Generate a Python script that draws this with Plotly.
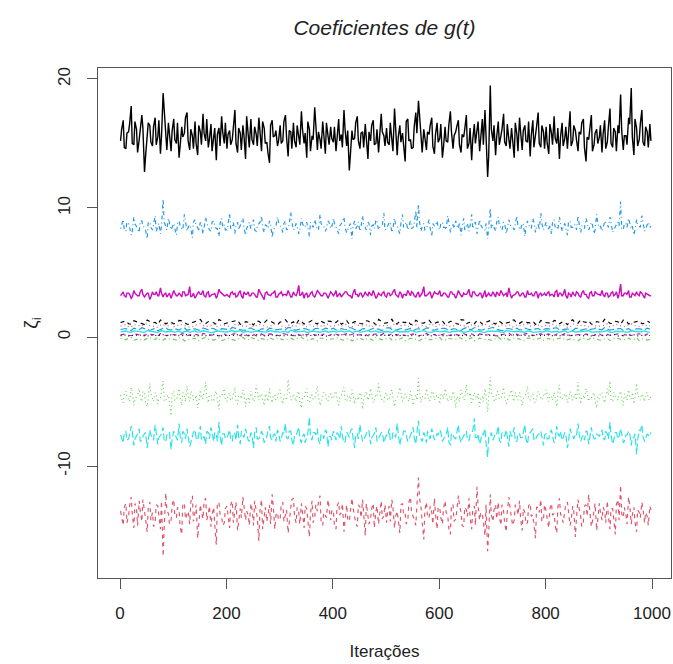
import plotly.graph_objects as go

# Iterations: two interleaved sets for the main chains, two for the near-zero chains
iter_main_a = list(range(1, 1001, 5))
iter_main_b = list(range(3, 1001, 5))
iter_small_a = list(range(1, 1001, 10))
iter_small_b = list(range(6, 1001, 10))

zeta1_a = [15.2, 16.8, 14.6, 15.9, 17.9, 14.9, 16.1, 15.3, 17.2, 12.8, 15.7, 16.4, 14.8, 17.0, 15.5, 14.2, 18.9, 15.1, 16.6, 14.4,
           16.9, 15.0, 13.9, 16.3, 15.8, 17.4, 14.5, 15.6, 16.7, 14.1, 15.9, 17.3, 15.2, 14.7, 16.5, 15.4, 13.7, 16.2, 17.1, 15.0,
           14.6, 16.0, 15.3, 17.6, 14.3, 15.8, 16.4, 13.8, 15.5, 16.9, 14.9, 15.7, 17.0, 14.4, 16.2, 15.1, 13.5, 16.8, 15.6, 14.8,
           16.4, 15.2, 17.2, 14.0, 15.9, 16.6, 14.7, 15.4, 17.5, 15.0, 13.9, 16.1, 15.6, 17.8, 14.5, 15.3, 16.7, 14.2, 15.8, 16.3,
           15.1, 14.4, 16.9, 15.7, 17.6, 14.8, 12.9, 16.0, 15.4, 17.1, 14.6, 15.9, 16.5, 13.8, 15.2, 16.8, 15.0, 14.3, 17.3, 15.6,
           16.2, 14.9, 15.5, 17.7, 14.1, 16.4, 15.8, 13.6, 16.9, 15.3, 14.7, 17.4, 18.3, 15.0, 16.1, 14.5, 15.7, 17.0, 14.2, 16.6,
           15.4, 13.9, 16.3, 15.1, 17.5, 14.6, 15.9, 16.8, 14.3, 15.5, 17.2, 15.0, 13.7, 16.5, 15.8, 14.4, 16.9, 17.6, 12.4, 19.5,
           15.2, 14.1, 16.7, 15.6, 17.3, 14.8, 15.3, 16.2, 13.9, 15.7, 17.0, 14.5, 16.4, 15.1, 14.0, 16.8, 15.5, 17.4, 14.7, 15.9,
           16.3, 14.2, 15.8, 17.1, 15.0, 13.8, 16.6, 15.4, 14.6, 17.5, 15.2, 16.0, 14.4, 15.7, 16.9, 13.6, 15.3, 17.2, 14.9, 16.1,
           15.5, 14.3, 16.8, 15.1, 17.7, 14.7, 15.9, 16.4, 18.8, 14.5, 15.6, 17.0, 19.3, 14.1, 16.2, 15.3, 17.6, 14.8, 15.9, 16.5]
zeta1_b = [16.1, 14.7, 15.8, 16.5, 15.0, 16.7, 14.3, 15.9, 16.2, 14.0, 16.6, 15.1, 16.3, 14.9, 16.8, 15.6, 17.4, 14.5, 15.8, 16.0,
           15.3, 16.6, 14.8, 15.5, 17.0, 15.2, 16.1, 14.6, 15.0, 16.4, 14.9, 15.8, 16.9, 15.3, 14.4, 16.2, 15.7, 14.8, 15.9, 16.6,
           15.7, 14.9, 16.5, 15.0, 16.2, 14.5, 15.6, 17.1, 14.7, 15.3, 16.3, 14.8, 15.9, 16.7, 15.0, 14.3, 16.4, 15.5, 16.0, 15.2,
           15.0, 16.7, 15.5, 16.0, 14.6, 15.2, 16.4, 14.9, 16.1, 15.8, 16.7, 14.4, 15.3, 16.2, 15.9, 14.6, 15.7, 16.6, 14.9, 15.4,
           16.3, 15.6, 15.2, 14.7, 16.1, 16.0, 14.1, 15.3, 16.6, 15.2, 15.8, 14.7, 15.4, 15.9, 16.4, 14.9, 16.1, 15.5, 15.9, 14.8,
           15.1, 16.6, 14.4, 16.0, 15.5, 15.1, 14.9, 16.7, 15.2, 14.6, 16.3, 15.8, 17.2, 14.3, 15.6, 15.9, 16.4, 14.8, 15.7, 15.1,
           16.5, 14.7, 15.2, 16.4, 15.9, 15.6, 16.3, 14.9, 15.7, 16.1, 14.6, 16.2, 15.3, 15.0, 16.7, 15.4, 14.9, 15.6, 14.0, 16.1,
           16.4, 15.5, 14.9, 16.1, 15.1, 16.5, 14.6, 15.2, 16.6, 14.4, 15.9, 16.0, 15.2, 16.7, 15.6, 14.7, 16.3, 15.0, 16.4, 14.6,
           15.0, 16.5, 14.9, 15.4, 16.2, 15.5, 14.8, 16.3, 16.0, 14.8, 16.4, 15.3, 15.9, 16.6, 14.7, 15.5, 16.1, 14.4, 15.8, 15.0,
           16.4, 15.7, 14.6, 16.3, 15.0, 16.2, 14.4, 15.8, 16.0, 15.6, 14.9, 16.5, 15.5, 16.9, 14.8, 16.5, 15.1, 16.3, 14.7, 15.2]

zeta2_a = [-13.5, -14.6, -12.9, -13.9, -12.4, -14.8, -13.3, -12.7, -14.3, -13.8, -15.1, -12.8, -13.6, -14.4, -13.1, -14.9, -17.0, -12.1, -13.7, -14.2,
           -12.6, -14.0, -13.4, -15.3, -12.9, -13.8, -14.5, -12.3, -13.6, -15.6, -13.0, -14.1, -12.5, -13.7, -14.7, -13.2, -16.1, -12.8, -13.9, -14.4,
           -13.1, -14.8, -12.7, -13.5, -15.0, -13.3, -12.4, -14.2, -13.8, -12.9, -14.6, -13.4, -15.8, -12.6, -13.9, -14.3, -13.0, -12.2, -14.9, -13.6,
           -14.1, -12.8, -13.7, -15.2, -13.2, -12.5, -14.4, -13.6, -12.9, -14.8, -13.3, -15.5, -12.7, -14.0, -13.5, -12.3, -14.6, -13.8, -12.6, -14.2,
           -13.4, -14.9, -12.8, -13.6, -15.1, -13.0, -14.3, -12.5, -13.9, -14.7, -13.2, -12.6, -15.4, -13.7, -14.1, -12.9, -13.5, -14.5, -12.7, -13.8,
           -14.4, -13.1, -12.6, -14.8, -13.5, -15.2, -12.9, -13.7, -14.2, -12.4, -13.9, -14.6, -10.9, -13.3, -15.7, -12.8, -14.0, -13.6, -12.5, -14.9,
           -13.2, -14.5, -12.7, -13.8, -15.3, -13.0, -14.1, -12.3, -13.6, -14.7, -13.4, -12.5, -14.9, -13.1, -11.6, -14.2, -13.7, -15.4, -16.6, -12.2,
           -14.3, -13.0, -12.8, -14.6, -13.5, -15.1, -12.4, -13.9, -14.2, -13.3, -12.7, -15.0, -13.6, -14.4, -12.9, -13.8, -15.6, -13.2, -12.6, -14.1,
           -13.5, -14.8, -12.9, -13.7, -15.2, -12.5, -14.0, -13.4, -12.8, -14.6, -13.1, -15.5, -12.6, -13.9, -14.3, -13.0, -12.2, -14.7, -13.6, -15.0,
           -12.9, -14.2, -13.5, -12.7, -14.9, -13.3, -15.3, -12.6, -11.5, -14.0, -13.8, -12.4, -14.5, -13.2, -15.1, -13.6, -12.8, -14.4, -13.9, -13.1]
zeta2_b = [-14.0, -13.2, -14.4, -13.1, -13.7, -12.9, -14.6, -13.5, -12.6, -14.1, -13.3, -14.2, -14.7, -13.0, -13.9, -12.7, -14.8, -13.4, -14.5, -13.0,
           -13.9, -13.2, -14.7, -12.9, -14.1, -13.5, -12.8, -14.3, -13.0, -14.4, -13.6, -12.7, -14.2, -13.1, -13.8, -14.5, -12.9, -13.7, -14.6, -13.3,
           -13.8, -13.0, -14.4, -12.8, -14.2, -14.0, -13.1, -13.5, -14.6, -13.3, -12.7, -14.0, -13.5, -14.9, -13.2, -13.6, -14.5, -13.1, -13.8, -14.2,
           -13.0, -14.3, -13.4, -14.1, -12.6, -13.9, -13.2, -14.5, -13.6, -13.1, -14.2, -13.7, -14.4, -13.0, -12.8, -14.3, -13.6, -14.0, -13.2, -13.5,
           -14.6, -13.1, -13.8, -12.9, -14.2, -14.1, -13.5, -13.2, -14.4, -13.0, -14.0, -13.7, -12.9, -14.5, -13.3, -14.8, -13.1, -13.6, -14.1, -13.0,
           -13.5, -14.3, -13.2, -13.9, -14.2, -13.0, -13.8, -14.5, -12.8, -13.6, -14.1, -13.1, -12.5, -14.4, -13.4, -14.0, -13.1, -14.5, -13.7, -13.2,
           -14.0, -13.3, -13.6, -14.8, -13.0, -14.3, -13.5, -13.0, -14.6, -13.2, -13.9, -14.0, -13.4, -14.6, -13.1, -13.6, -14.3, -13.0, -15.2, -13.8,
           -13.4, -14.1, -13.9, -13.0, -14.4, -13.5, -13.2, -14.6, -13.0, -13.8, -14.1, -13.3, -14.5, -13.1, -13.9, -14.7, -13.2, -13.6, -14.3, -13.0,
           -14.1, -13.3, -13.8, -14.6, -13.2, -13.7, -14.4, -12.9, -13.6, -14.2, -13.5, -14.0, -13.3, -14.7, -13.1, -13.9, -13.5, -14.3, -12.9, -14.1,
           -13.6, -13.2, -14.4, -13.9, -13.3, -14.1, -13.0, -14.2, -13.7, -13.2, -14.5, -13.0, -13.8, -14.3, -13.4, -14.0, -13.3, -13.6, -14.6, -13.4]

zeta3_a = [-4.5, -5.1, -4.2, -4.9, -3.9, -5.3, -4.6, -4.0, -5.0, -4.4, -5.4, -3.6, -4.8, -4.3, -5.2, -4.7, -3.4, -5.0, -4.5, -6.1,
           -4.2, -4.9, -4.0, -5.3, -4.6, -3.8, -5.0, -4.4, -4.8, -5.5, -4.1, -4.7, -3.5, -5.1, -4.5, -4.9, -4.2, -5.6, -4.6, -4.0,
           -5.0, -4.3, -4.8, -3.9, -5.2, -4.5, -4.1, -5.4, -4.7, -4.2, -5.0, -3.7, -4.9, -4.4, -5.3, -4.6, -4.0, -5.1, -4.5, -4.8,
           -4.1, -5.2, -4.6, -3.3, -4.9, -4.4, -5.0, -4.2, -5.5, -4.7, -4.0, -5.1, -4.5, -4.8, -3.8, -5.3, -4.6, -4.3, -5.0, -4.4,
           -4.8, -4.2, -5.3, -4.5, -3.9, -5.0, -4.6, -4.1, -5.2, -4.7, -4.3, -5.6, -4.4, -4.9, -4.0, -5.1, -4.5, -3.6, -4.8, -5.0,
           -4.3, -4.9, -4.1, -5.4, -4.6, -3.9, -5.0, -4.4, -4.8, -4.2, -5.3, -4.5, -3.2, -5.1, -4.7, -4.0, -5.0, -4.3, -4.9, -4.5,
           -5.2, -4.4, -4.0, -5.0, -4.6, -4.2, -5.5, -4.7, -4.1, -4.9, -3.7, -4.5, -5.1, -4.3, -4.8, -5.4, -4.6, -4.0, -5.8, -3.1,
           -4.6, -5.0, -4.2, -4.8, -3.9, -5.2, -4.5, -4.1, -5.0, -4.7, -4.3, -5.3, -4.6, -3.8, -4.9, -4.4, -5.1, -4.2, -4.8, -4.5,
           -4.1, -5.0, -4.6, -4.3, -5.4, -3.7, -4.8, -4.5, -5.1, -4.2, -4.9, -4.4, -3.5, -5.2, -4.6, -4.0, -5.0, -4.7, -4.3, -5.5,
           -4.8, -4.3, -5.1, -4.0, -3.4, -5.0, -4.5, -4.9, -4.2, -5.3, -4.6, -4.1, -4.8, -5.2, -3.6, -4.7, -4.4, -5.0, -4.3, -4.9]
zeta3_b = [-4.8, -4.4, -4.6, -5.0, -4.3, -4.9, -4.5, -4.7, -4.2, -5.1, -4.6, -4.4, -5.0, -4.5, -4.8, -4.2, -4.9, -4.6, -5.2, -4.4,
           -4.9, -4.5, -4.7, -4.3, -5.0, -4.6, -4.2, -4.9, -4.5, -5.1, -4.8, -4.3, -4.7, -4.5, -5.0, -4.4, -4.9, -4.6, -4.3, -4.8,
           -4.5, -4.9, -4.4, -5.0, -4.6, -4.8, -4.3, -4.7, -5.1, -4.5, -4.8, -4.2, -4.6, -4.9, -4.4, -5.0, -4.7, -4.5, -4.9, -4.3,
           -4.7, -4.5, -4.9, -4.2, -4.8, -4.6, -4.4, -5.0, -4.7, -4.3, -4.9, -4.5, -4.8, -4.4, -4.6, -5.1, -4.3, -4.8, -4.5, -4.7,
           -4.4, -4.9, -4.6, -4.3, -4.8, -4.5, -5.0, -4.4, -4.7, -4.9, -4.5, -4.8, -4.2, -4.7, -4.4, -4.9, -4.6, -4.3, -5.0, -4.5,
           -4.8, -4.4, -4.7, -4.9, -4.5, -4.3, -4.8, -4.6, -5.0, -4.4, -4.7, -4.9, -4.3, -4.6, -4.8, -4.5, -4.9, -4.2, -4.7, -4.6,
           -4.5, -4.8, -4.3, -4.7, -4.9, -4.5, -4.6, -5.0, -4.4, -4.8, -4.5, -4.3, -4.9, -4.6, -4.4, -4.8, -5.0, -4.5, -4.7, -4.4,
           -4.9, -4.3, -4.8, -4.5, -4.6, -4.9, -4.4, -4.7, -4.3, -4.9, -4.6, -4.8, -4.4, -4.7, -4.5, -5.0, -4.6, -4.4, -4.9, -4.6,
           -4.6, -4.4, -4.9, -4.7, -4.3, -4.8, -4.6, -4.4, -4.9, -4.5, -4.7, -4.9, -4.4, -4.6, -4.8, -4.3, -4.7, -4.5, -5.0, -4.6,
           -4.4, -4.8, -4.6, -4.5, -4.9, -4.3, -4.7, -4.5, -4.8, -4.4, -4.9, -4.6, -4.3, -4.7, -4.5, -4.9, -4.6, -4.4, -4.8, -4.5]

zeta4_a = [8.4, 9.1, 8.2, 8.8, 7.9, 9.3, 8.6, 8.1, 9.0, 8.5, 7.6, 8.9, 8.3, 9.4, 8.7, 8.0, 10.7, 8.6, 9.2, 8.3,
           8.8, 7.9, 9.0, 8.4, 9.5, 8.2, 8.7, 7.7, 9.1, 8.5, 8.9, 8.0, 9.3, 8.6, 8.2, 9.0, 8.4, 7.8, 9.2, 8.7,
           8.3, 9.6, 8.5, 8.0, 8.9, 8.6, 9.2, 7.9, 8.7, 8.4, 9.1, 8.2, 8.8, 9.4, 8.1, 8.6, 9.0, 7.7, 8.5, 9.3,
           8.6, 8.1, 9.0, 8.4, 9.7, 8.3, 8.8, 8.0, 9.2, 8.5, 8.9, 7.8, 8.7, 9.1, 8.3, 9.5, 8.6, 8.2, 9.0, 8.4,
           9.2, 8.5, 8.0, 8.8, 9.3, 8.1, 8.7, 7.6, 9.0, 8.6, 8.2, 9.4, 8.5, 8.9, 7.9, 8.7, 9.1, 8.3, 8.6, 9.6,
           8.4, 8.9, 8.1, 9.2, 8.6, 8.0, 9.5, 8.7, 8.3, 9.0, 8.5, 9.8, 10.3, 8.2, 8.8, 8.4, 9.1, 7.8, 8.6, 9.0,
           8.3, 8.9, 8.5, 9.4, 8.1, 8.7, 9.0, 8.4, 7.9, 9.2, 8.6, 8.2, 9.5, 8.8, 8.0, 9.1, 8.5, 8.3, 7.6, 10.0,
           8.7, 8.2, 9.3, 8.5, 8.9, 8.0, 9.1, 8.6, 8.3, 9.4, 8.4, 8.8, 7.8, 9.0, 8.5, 9.2, 8.1, 8.7, 9.6, 8.3,
           8.9, 8.4, 8.0, 9.1, 8.6, 9.3, 8.2, 8.8, 7.9, 9.0, 8.5, 8.7, 9.4, 8.1, 8.6, 9.2, 8.3, 8.9, 8.0, 9.5,
           8.5, 8.2, 9.0, 8.7, 9.3, 8.1, 8.6, 8.9, 10.5, 8.3, 8.8, 9.2, 8.4, 7.9, 9.1, 8.6, 9.4, 8.2, 8.8, 8.5]
zeta4_b = [8.7, 8.3, 8.9, 8.5, 8.2, 8.8, 8.4, 9.0, 8.6, 8.3, 8.9, 8.5, 8.7, 8.2, 8.8, 8.6, 8.9, 8.3, 8.7, 8.5,
           8.4, 8.8, 8.6, 8.3, 8.9, 8.5, 8.4, 8.9, 8.6, 8.2, 8.7, 8.5, 8.8, 8.3, 8.9, 8.6, 8.4, 8.8, 8.5, 8.3,
           8.7, 8.4, 8.9, 8.6, 8.3, 8.8, 8.5, 8.4, 8.9, 8.7, 8.3, 8.6, 8.9, 8.5, 8.7, 8.4, 8.8, 8.3, 8.6, 8.9,
           8.5, 8.8, 8.3, 8.7, 8.9, 8.4, 8.6, 8.3, 8.8, 8.6, 8.4, 8.9, 8.5, 8.7, 8.3, 8.8, 8.6, 8.4, 8.9, 8.5,
           8.8, 8.4, 8.6, 8.9, 8.5, 8.3, 8.8, 8.6, 8.4, 8.9, 8.5, 8.7, 8.3, 8.8, 8.6, 8.4, 8.9, 8.5, 8.7, 8.3,
           8.6, 8.9, 8.4, 8.7, 8.3, 8.8, 8.5, 8.9, 8.6, 8.4, 8.8, 8.5, 8.9, 8.6, 8.3, 8.7, 8.4, 8.8, 8.6, 8.5,
           8.8, 8.5, 8.3, 8.9, 8.6, 8.4, 8.7, 8.9, 8.5, 8.3, 8.8, 8.6, 8.4, 8.9, 8.5, 8.7, 8.3, 8.8, 8.6, 8.4,
           8.5, 8.9, 8.6, 8.3, 8.8, 8.4, 8.7, 8.5, 8.9, 8.6, 8.3, 8.8, 8.5, 8.7, 8.4, 8.9, 8.6, 8.3, 8.8, 8.6,
           8.4, 8.7, 8.9, 8.5, 8.3, 8.8, 8.6, 8.4, 8.9, 8.5, 8.7, 8.3, 8.8, 8.6, 8.4, 8.9, 8.5, 8.7, 8.3, 8.8,
           8.6, 8.4, 8.8, 8.5, 8.9, 8.3, 8.7, 8.6, 8.4, 8.8, 8.5, 8.9, 8.6, 8.3, 8.7, 8.5, 8.8, 8.4, 8.9, 8.6]

zeta5_a = [-7.6, -8.2, -7.3, -7.9, -6.9, -8.4, -7.7, -7.1, -8.0, -7.5, -8.6, -7.2, -7.8, -6.8, -8.3, -7.6, -7.0, -8.1, -7.4, -8.7,
           -7.3, -7.9, -6.7, -8.2, -7.5, -7.1, -8.5, -7.7, -7.2, -8.0, -6.9, -7.8, -8.3, -7.4, -7.0, -8.1, -7.6, -6.6, -8.4, -7.5,
           -7.8, -7.2, -8.1, -7.5, -6.8, -8.3, -7.6, -7.1, -8.0, -7.4, -8.6, -7.0, -7.9, -7.3, -8.2, -7.7, -6.9, -8.0, -7.5, -7.2,
           -8.1, -7.4, -6.7, -7.9, -7.3, -8.4, -7.6, -7.0, -8.2, -7.5, -7.8, -6.2, -8.0, -7.4, -7.1, -8.3, -7.6, -7.2, -8.5, -7.7,
           -7.3, -8.0, -7.6, -6.9, -8.2, -7.4, -7.8, -7.1, -8.6, -7.5, -6.8, -8.1, -7.7, -7.2, -8.3, -7.6, -7.0, -7.9, -7.4, -8.2,
           -7.6, -7.1, -8.0, -7.5, -6.7, -8.4, -7.8, -7.3, -8.1, -7.6, -7.0, -8.3, -6.5, -7.9, -7.4, -8.2, -7.7, -7.1, -8.0, -7.5,
           -7.2, -8.1, -7.7, -7.0, -8.4, -7.5, -7.9, -6.8, -8.2, -7.6, -7.3, -8.0, -7.4, -6.3, -7.8, -8.3, -7.5, -7.1, -9.3, -7.7,
           -8.0, -7.4, -6.9, -8.2, -7.6, -7.2, -8.5, -7.7, -7.0, -8.1, -7.5, -7.8, -6.8, -8.3, -7.4, -7.1, -8.0, -7.6, -7.3, -8.4,
           -7.5, -7.9, -7.2, -8.2, -6.9, -7.7, -8.0, -7.4, -8.6, -7.1, -7.8, -7.5, -6.7, -8.1, -7.6, -7.3, -8.3, -7.0, -7.9, -7.5,
           -7.7, -7.2, -8.0, -7.5, -6.6, -8.3, -7.4, -7.9, -7.1, -8.2, -7.6, -7.3, -8.4, -7.8, -9.1, -7.2, -6.8, -8.1, -7.5, -7.7]
zeta5_b = [-7.8, -7.4, -8.0, -7.6, -7.3, -7.9, -7.5, -8.1, -7.7, -7.4, -7.9, -7.6, -8.0, -7.3, -7.8, -7.5, -8.1, -7.6, -7.4, -7.9,
           -7.5, -8.0, -7.7, -7.3, -7.9, -7.6, -8.2, -7.4, -7.8, -7.5, -8.0, -7.7, -7.3, -7.9, -7.6, -7.4, -8.1, -7.7, -7.5, -7.9,
           -7.6, -7.9, -7.4, -8.0, -7.7, -7.3, -7.8, -7.5, -8.1, -7.6, -7.4, -7.9, -7.7, -7.5, -8.0, -7.3, -7.8, -7.6, -8.1, -7.4,
           -7.9, -7.5, -7.8, -7.3, -8.0, -7.6, -7.4, -7.9, -7.7, -8.2, -7.5, -7.8, -7.4, -7.6, -8.0, -7.5, -7.9, -7.3, -7.7, -8.0,
           -7.6, -7.4, -7.9, -7.7, -8.1, -7.5, -7.3, -7.8, -7.6, -7.9, -7.4, -8.0, -7.6, -7.3, -7.8, -7.5, -8.1, -7.7, -7.4, -7.9,
           -7.7, -8.0, -7.4, -7.8, -7.5, -7.9, -7.3, -7.6, -8.0, -7.5, -7.8, -7.4, -7.7, -8.1, -7.6, -7.3, -7.9, -7.5, -7.8, -7.6,
           -7.4, -7.9, -7.6, -8.1, -7.5, -7.8, -7.3, -7.7, -7.9, -7.5, -8.0, -7.6, -7.3, -7.8, -7.5, -7.9, -7.6, -8.2, -7.7, -7.4,
           -7.8, -7.5, -8.0, -7.4, -7.7, -7.9, -7.3, -7.6, -8.1, -7.5, -7.8, -7.4, -7.9, -7.6, -7.3, -8.0, -7.7, -7.5, -7.9, -7.6,
           -7.9, -7.4, -7.7, -8.0, -7.5, -7.3, -7.8, -7.6, -8.1, -7.4, -7.9, -7.6, -7.5, -7.8, -8.0, -7.3, -7.7, -7.5, -7.9, -7.6,
           -7.5, -7.8, -7.3, -7.9, -7.6, -8.0, -7.4, -7.7, -7.5, -8.1, -7.6, -7.4, -7.8, -7.5, -8.0, -7.3, -7.7, -7.9, -7.6, -7.4]

zeta6_a = [3.2, 3.5, 3.1, 3.4, 3.0, 3.6, 3.3, 3.2, 3.7, 3.1, 3.4, 2.9, 3.5, 3.3, 3.2, 3.8, 3.1, 3.4, 3.3, 3.0,
           3.6, 3.2, 3.4, 3.1, 3.5, 3.3, 3.9, 3.2, 3.0, 3.4, 3.3, 3.6, 3.1, 3.5, 3.2, 3.3, 3.0, 3.7, 3.4, 3.2,
           3.3, 3.1, 3.5, 3.4, 3.2, 3.6, 3.0, 3.3, 3.5, 3.2, 3.4, 3.1, 3.7, 3.3, 2.9, 3.5, 3.2, 3.4, 3.6, 3.1,
           3.4, 3.2, 3.3, 3.6, 3.1, 3.5, 3.2, 4.0, 3.3, 3.0, 3.4, 3.2, 3.5, 3.1, 3.6, 3.3, 3.2, 3.4, 3.0, 3.5,
           3.2, 3.6, 3.3, 3.1, 3.4, 3.5, 3.2, 3.0, 3.7, 3.3, 3.4, 3.1, 3.5, 3.2, 3.3, 3.6, 3.0, 3.4, 3.2, 3.5,
           3.1, 3.4, 3.3, 3.7, 3.2, 3.5, 3.0, 3.3, 3.6, 3.2, 3.4, 3.1, 3.5, 3.3, 3.9, 3.2, 3.4, 3.0, 3.5, 3.3,
           3.6, 3.2, 3.4, 3.1, 3.5, 3.3, 3.0, 3.6, 3.2, 3.4, 3.3, 3.7, 3.1, 3.5, 3.2, 3.4, 3.0, 3.6, 3.3, 3.2,
           3.5, 3.1, 3.3, 3.6, 3.2, 3.4, 3.8, 3.0, 3.3, 3.5, 3.2, 3.4, 3.1, 3.6, 3.3, 3.2, 3.5, 3.0, 3.4, 3.3,
           3.2, 3.5, 3.3, 3.1, 3.6, 3.4, 3.2, 3.7, 3.0, 3.3, 3.5, 3.2, 3.4, 3.1, 3.6, 3.3, 3.0, 3.5, 3.2, 3.4,
           3.3, 3.6, 3.1, 3.4, 3.2, 3.5, 3.3, 3.0, 4.1, 3.2, 3.4, 3.6, 3.1, 3.3, 3.5, 3.2, 3.4, 3.0, 3.3, 3.2]
zeta6_b = [3.3, 3.2, 3.4, 3.3, 3.1, 3.4, 3.2, 3.5, 3.3, 3.2, 3.4, 3.1, 3.3, 3.5, 3.2, 3.4, 3.3, 3.1, 3.4, 3.2,
           3.4, 3.2, 3.3, 3.5, 3.2, 3.3, 3.1, 3.4, 3.2, 3.5, 3.3, 3.2, 3.4, 3.1, 3.3, 3.4, 3.2, 3.5, 3.3, 3.2,
           3.2, 3.4, 3.3, 3.1, 3.4, 3.2, 3.5, 3.3, 3.2, 3.4, 3.3, 3.1, 3.5, 3.2, 3.4, 3.3, 3.2, 3.4, 3.1, 3.3,
           3.5, 3.3, 3.2, 3.4, 3.1, 3.3, 3.4, 3.2, 3.5, 3.3, 3.1, 3.4, 3.2, 3.3, 3.5, 3.2, 3.4, 3.3, 3.2, 3.4,
           3.3, 3.1, 3.4, 3.2, 3.5, 3.3, 3.2, 3.4, 3.3, 3.1, 3.4, 3.2, 3.3, 3.5, 3.2, 3.4, 3.1, 3.3, 3.4, 3.2,
           3.4, 3.2, 3.5, 3.3, 3.1, 3.4, 3.3, 3.2, 3.4, 3.5, 3.2, 3.3, 3.1, 3.4, 3.2, 3.3, 3.5, 3.2, 3.4, 3.3,
           3.2, 3.4, 3.3, 3.1, 3.5, 3.3, 3.2, 3.4, 3.1, 3.3, 3.4, 3.2, 3.5, 3.3, 3.2, 3.4, 3.3, 3.1, 3.4, 3.2,
           3.3, 3.5, 3.2, 3.4, 3.3, 3.1, 3.4, 3.2, 3.3, 3.5, 3.2, 3.4, 3.1, 3.3, 3.4, 3.2, 3.5, 3.3, 3.2, 3.4,
           3.4, 3.2, 3.3, 3.5, 3.1, 3.4, 3.3, 3.2, 3.4, 3.1, 3.3, 3.5, 3.2, 3.4, 3.3, 3.1, 3.4, 3.2, 3.5, 3.3,
           3.2, 3.3, 3.4, 3.1, 3.4, 3.2, 3.5, 3.3, 3.2, 3.4, 3.3, 3.1, 3.4, 3.2, 3.3, 3.5, 3.2, 3.4, 3.3, 3.2]

zeta7_a = [1.12, 1.25, 0.98, 1.18, 1.05, 1.31, 1.09, 0.95, 1.22, 1.14, 1.02, 1.28, 1.11, 0.97, 1.19, 1.36, 1.04, 1.15, 0.99, 1.24,
           1.08, 1.17, 1.30, 1.01, 1.13, 0.94, 1.21, 1.10, 1.27, 1.03, 1.16, 1.34, 1.06, 0.96, 1.20, 1.12, 1.29, 1.00, 1.14, 1.23,
           1.07, 1.32, 1.11, 0.98, 1.19, 1.05, 1.26, 1.13, 0.95, 1.21, 1.09, 1.38, 1.02, 1.15, 1.24, 0.99, 1.18, 1.08, 1.30, 1.04,
           1.16, 0.97, 1.22, 1.11, 1.35, 1.03, 1.14, 1.27, 1.00, 1.19, 1.09, 1.25, 0.96, 1.13, 1.31, 1.06, 1.20, 1.10, 0.98, 1.28,
           1.12, 1.04, 1.23, 1.15, 0.95, 1.33, 1.07, 1.18, 1.26, 1.01, 1.14, 1.37, 1.05, 1.21, 0.99, 1.29, 1.10, 1.17, 1.03, 1.24]
zeta7_b = [1.18, 1.03, 1.26, 1.10, 0.97, 1.21, 1.14, 1.32, 1.01, 1.17, 1.08, 1.25, 0.99, 1.13, 1.29, 1.06, 1.20, 1.11, 1.35, 1.02,
           1.15, 1.27, 0.98, 1.19, 1.09, 1.24, 1.04, 1.31, 1.12, 0.96, 1.22, 1.07, 1.18, 1.33, 1.00, 1.16, 1.10, 1.26, 1.05, 1.21,
           1.13, 0.99, 1.28, 1.08, 1.19, 1.02, 1.24, 1.14, 1.36, 1.06, 1.17, 1.01, 1.23, 1.11, 0.97, 1.30, 1.09, 1.20, 1.04, 1.15,
           1.25, 1.07, 1.18, 0.98, 1.32, 1.12, 1.03, 1.21, 1.16, 1.27, 1.00, 1.14, 1.08, 1.34, 1.05, 1.19, 1.11, 1.23, 0.96, 1.17,
           1.09, 1.29, 1.02, 1.16, 1.22, 1.06, 1.35, 1.13, 0.99, 1.20, 1.08, 1.26, 1.04, 1.18, 1.31, 1.01, 1.15, 1.24, 1.07, 1.12]

zeta8_a = [0.85, 0.97, 0.78, 0.92, 0.83, 1.02, 0.88, 0.74, 0.95, 0.86, 0.80, 0.99, 0.89, 0.76, 0.93, 1.05, 0.82, 0.90, 0.79, 0.96,
           0.87, 0.75, 1.00, 0.84, 0.91, 0.77, 0.98, 0.86, 0.81, 1.03, 0.89, 0.73, 0.94, 0.85, 0.99, 0.80, 0.92, 0.87, 0.76, 1.01,
           0.83, 0.95, 0.88, 0.78, 1.04, 0.86, 0.90, 0.75, 0.97, 0.84, 0.92, 0.79, 1.00, 0.87, 0.82, 0.96, 0.74, 0.89, 0.93, 0.81,
           0.98, 0.85, 0.77, 1.02, 0.88, 0.83, 0.94, 0.76, 0.91, 0.86, 1.06, 0.80, 0.89, 0.95, 0.78, 0.87, 1.00, 0.84, 0.92, 0.79,
           0.90, 0.97, 0.82, 0.88, 0.75, 1.01, 0.86, 0.93, 0.80, 0.96, 0.84, 0.91, 0.77, 0.99, 0.87, 0.83, 1.03, 0.85, 0.90, 0.81]
zeta8_b = [0.91, 0.80, 0.96, 0.84, 1.00, 0.87, 0.77, 0.93, 0.89, 1.02, 0.82, 0.95, 0.86, 0.78, 0.98, 0.90, 0.83, 1.04, 0.85, 0.92,
           0.79, 0.97, 0.88, 0.81, 1.01, 0.86, 0.94, 0.76, 0.90, 0.99, 0.84, 0.92, 0.80, 1.03, 0.87, 0.95, 0.78, 0.89, 0.97, 0.83,
           0.93, 0.86, 1.00, 0.79, 0.91, 0.85, 0.98, 0.82, 0.94, 0.88, 0.76, 1.02, 0.87, 0.92, 0.81, 0.96, 0.89, 0.84, 1.05, 0.80,
           0.90, 0.95, 0.83, 0.99, 0.86, 0.78, 0.93, 0.88, 1.01, 0.82, 0.91, 0.97, 0.85, 0.79, 0.94, 0.89, 1.03, 0.84, 0.92, 0.87,
           0.81, 0.98, 0.86, 0.93, 0.77, 1.00, 0.89, 0.84, 0.96, 0.82, 0.91, 1.02, 0.85, 0.94, 0.80, 0.97, 0.88, 0.83, 0.99, 0.86]

zeta9_a = [-0.12, -0.22, -0.05, -0.18, -0.28, -0.09, -0.16, -0.02, -0.24, -0.13, -0.20, -0.07, -0.31, -0.15, -0.10, -0.25, -0.04, -0.19, -0.14, -0.27,
           -0.08, -0.21, -0.16, -0.03, -0.23, -0.11, -0.29, -0.17, -0.06, -0.20, -0.13, -0.26, -0.09, -0.18, -0.01, -0.22, -0.15, -0.30, -0.10, -0.19,
           -0.14, -0.05, -0.24, -0.12, -0.21, -0.08, -0.27, -0.16, -0.03, -0.20, -0.11, -0.25, -0.17, -0.07, -0.22, -0.13, -0.32, -0.09, -0.18, -0.15,
           -0.04, -0.23, -0.14, -0.19, -0.10, -0.28, -0.06, -0.21, -0.16, -0.12, -0.26, -0.02, -0.18, -0.24, -0.09, -0.15, -0.29, -0.11, -0.20, -0.07,
           -0.17, -0.25, -0.13, -0.05, -0.22, -0.16, -0.30, -0.10, -0.19, -0.08, -0.23, -0.14, -0.27, -0.06, -0.18, -0.12, -0.21, -0.03, -0.16, -0.24]
zeta9_b = [-0.18, -0.08, -0.25, -0.13, -0.21, -0.04, -0.19, -0.27, -0.11, -0.16, -0.23, -0.06, -0.20, -0.14, -0.29, -0.10, -0.17, -0.24, -0.07, -0.21,
           -0.15, -0.26, -0.09, -0.19, -0.03, -0.22, -0.13, -0.28, -0.16, -0.08, -0.24, -0.12, -0.20, -0.05, -0.18, -0.27, -0.14, -0.10, -0.23, -0.17,
           -0.06, -0.21, -0.15, -0.30, -0.11, -0.19, -0.08, -0.25, -0.14, -0.20, -0.04, -0.22, -0.16, -0.28, -0.10, -0.18, -0.23, -0.07, -0.20, -0.13,
           -0.26, -0.11, -0.17, -0.05, -0.22, -0.15, -0.29, -0.09, -0.19, -0.24, -0.12, -0.18, -0.03, -0.21, -0.14, -0.27, -0.08, -0.20, -0.16, -0.25,
           -0.10, -0.19, -0.06, -0.23, -0.15, -0.28, -0.12, -0.21, -0.04, -0.17, -0.26, -0.11, -0.20, -0.14, -0.24, -0.08, -0.19, -0.29, -0.13, -0.18]

zeta10_a = [0.58, 0.66, 0.51, 0.62, 0.72, 0.55, 0.60, 0.48, 0.67, 0.57, 0.63, 0.53, 0.70, 0.59, 0.64, 0.50, 0.61, 0.68, 0.54, 0.65,
            0.56, 0.74, 0.60, 0.52, 0.66, 0.58, 0.49, 0.63, 0.69, 0.55, 0.61, 0.57, 0.71, 0.53, 0.64, 0.59, 0.47, 0.67, 0.56, 0.62,
            0.68, 0.54, 0.60, 0.73, 0.57, 0.50, 0.65, 0.59, 0.63, 0.52, 0.70, 0.58, 0.55, 0.66, 0.61, 0.48, 0.64, 0.57, 0.69, 0.53,
            0.60, 0.67, 0.56, 0.62, 0.51, 0.72, 0.58, 0.64, 0.54, 0.61, 0.75, 0.57, 0.50, 0.66, 0.60, 0.55, 0.68, 0.59, 0.63, 0.52,
            0.65, 0.58, 0.71, 0.54, 0.62, 0.49, 0.67, 0.60, 0.56, 0.64, 0.59, 0.73, 0.53, 0.61, 0.66, 0.57, 0.50, 0.63, 0.58, 0.69]
zeta10_b = [0.62, 0.55, 0.69, 0.57, 0.64, 0.51, 0.66, 0.59, 0.72, 0.54, 0.61, 0.67, 0.52, 0.63, 0.58, 0.70, 0.56, 0.65, 0.49, 0.62,
            0.57, 0.68, 0.60, 0.53, 0.71, 0.59, 0.64, 0.50, 0.66, 0.58, 0.62, 0.74, 0.55, 0.61, 0.67, 0.52, 0.64, 0.57, 0.69, 0.60,
            0.54, 0.65, 0.58, 0.70, 0.56, 0.63, 0.48, 0.67, 0.61, 0.55, 0.72, 0.59, 0.64, 0.53, 0.66, 0.60, 0.57, 0.71, 0.54, 0.62,
            0.68, 0.56, 0.63, 0.51, 0.65, 0.59, 0.73, 0.55, 0.61, 0.67, 0.58, 0.50, 0.64, 0.60, 0.69, 0.56, 0.62, 0.53, 0.66, 0.59,
            0.63, 0.70, 0.55, 0.61, 0.57, 0.68, 0.52, 0.64, 0.60, 0.74, 0.56, 0.62, 0.58, 0.67, 0.51, 0.65, 0.59, 0.63, 0.55, 0.61]

zeta11_a = [0.40, 0.46, 0.37, 0.44, 0.39, 0.49, 0.41, 0.35, 0.47, 0.42, 0.38, 0.45, 0.43, 0.36, 0.48, 0.40, 0.44, 0.34, 0.46, 0.41,
            0.39, 0.50, 0.42, 0.37, 0.45, 0.40, 0.43, 0.36, 0.47, 0.41, 0.38, 0.44, 0.52, 0.39, 0.42, 0.35, 0.46, 0.40, 0.43, 0.37,
            0.45, 0.41, 0.38, 0.48, 0.42, 0.36, 0.44, 0.40, 0.47, 0.39, 0.43, 0.33, 0.46, 0.41, 0.38, 0.45, 0.42, 0.49, 0.37, 0.44,
            0.40, 0.46, 0.36, 0.43, 0.41, 0.39, 0.51, 0.42, 0.38, 0.45, 0.40, 0.44, 0.35, 0.47, 0.41, 0.43, 0.37, 0.46, 0.39, 0.42,
            0.48, 0.38, 0.44, 0.41, 0.36, 0.45, 0.40, 0.43, 0.50, 0.39, 0.42, 0.46, 0.37, 0.44, 0.41, 0.38, 0.47, 0.40, 0.43, 0.39]
zeta11_b = [0.43, 0.38, 0.47, 0.41, 0.36, 0.45, 0.40, 0.49, 0.39, 0.44, 0.42, 0.35, 0.46, 0.41, 0.38, 0.48, 0.43, 0.37, 0.45, 0.40,
            0.44, 0.39, 0.50, 0.42, 0.36, 0.46, 0.41, 0.38, 0.47, 0.43, 0.40, 0.34, 0.45, 0.42, 0.48, 0.39, 0.44, 0.37, 0.46, 0.41,
            0.38, 0.47, 0.43, 0.36, 0.45, 0.40, 0.49, 0.42, 0.37, 0.44, 0.41, 0.46, 0.39, 0.43, 0.51, 0.38, 0.45, 0.40, 0.36, 0.47,
            0.42, 0.39, 0.44, 0.48, 0.37, 0.43, 0.40, 0.46, 0.35, 0.45, 0.41, 0.38, 0.49, 0.42, 0.44, 0.39, 0.47, 0.36, 0.43, 0.40,
            0.45, 0.41, 0.37, 0.48, 0.42, 0.39, 0.44, 0.46, 0.38, 0.43, 0.40, 0.50, 0.36, 0.45, 0.42, 0.39, 0.44, 0.41, 0.47, 0.38]

zeta12_a = [0.16, 0.24, 0.10, 0.20, 0.13, 0.27, 0.18, 0.08, 0.22, 0.15, 0.19, 0.11, 0.25, 0.17, 0.21, 0.06, 0.23, 0.14, 0.18, 0.26,
            0.12, 0.20, 0.16, 0.29, 0.09, 0.21, 0.17, 0.13, 0.24, 0.19, 0.07, 0.22, 0.15, 0.26, 0.11, 0.18, 0.23, 0.14, 0.20, 0.10,
            0.25, 0.16, 0.19, 0.12, 0.28, 0.17, 0.21, 0.09, 0.23, 0.15, 0.18, 0.27, 0.13, 0.20, 0.16, 0.24, 0.08, 0.22, 0.17, 0.19,
            0.14, 0.26, 0.11, 0.21, 0.18, 0.15, 0.25, 0.10, 0.20, 0.17, 0.23, 0.13, 0.19, 0.30, 0.16, 0.12, 0.22, 0.18, 0.14, 0.24,
            0.20, 0.09, 0.23, 0.17, 0.26, 0.13, 0.19, 0.15, 0.21, 0.11, 0.25, 0.18, 0.14, 0.22, 0.16, 0.28, 0.12, 0.20, 0.17, 0.23]
zeta12_b = [0.20, 0.13, 0.25, 0.16, 0.09, 0.22, 0.18, 0.27, 0.12, 0.19, 0.15, 0.24, 0.10, 0.21, 0.17, 0.28, 0.14, 0.19, 0.07, 0.23,
            0.16, 0.26, 0.12, 0.20, 0.15, 0.09, 0.24, 0.18, 0.22, 0.13, 0.27, 0.17, 0.11, 0.21, 0.19, 0.25, 0.14, 0.08, 0.23, 0.17,
            0.21, 0.12, 0.26, 0.18, 0.15, 0.23, 0.10, 0.20, 0.16, 0.29, 0.13, 0.19, 0.24, 0.11, 0.22, 0.17, 0.14, 0.26, 0.18, 0.09,
            0.23, 0.16, 0.20, 0.13, 0.27, 0.19, 0.12, 0.24, 0.15, 0.21, 0.08, 0.18, 0.25, 0.14, 0.22, 0.17, 0.28, 0.11, 0.20, 0.16,
            0.24, 0.13, 0.19, 0.26, 0.10, 0.21, 0.17, 0.23, 0.15, 0.27, 0.12, 0.20, 0.16, 0.24, 0.09, 0.22, 0.18, 0.25, 0.14, 0.19]

zeta13_a = [0.10, 0.16, 0.07, 0.13, 0.19, 0.09, 0.14, 0.05, 0.17, 0.11, 0.15, 0.08, 0.18, 0.12, 0.06, 0.16, 0.10, 0.20, 0.13, 0.09,
            0.15, 0.11, 0.17, 0.07, 0.14, 0.12, 0.19, 0.08, 0.16, 0.10, 0.13, 0.05, 0.18, 0.11, 0.15, 0.09, 0.14, 0.21, 0.12, 0.08,
            0.16, 0.10, 0.13, 0.18, 0.07, 0.15, 0.11, 0.17, 0.09, 0.14, 0.12, 0.06, 0.19, 0.13, 0.10, 0.16, 0.08, 0.15, 0.11, 0.18,
            0.12, 0.09, 0.17, 0.14, 0.07, 0.16, 0.10, 0.13, 0.20, 0.11, 0.15, 0.08, 0.14, 0.12, 0.17, 0.09, 0.13, 0.06, 0.16, 0.11,
            0.18, 0.10, 0.14, 0.08, 0.15, 0.12, 0.19, 0.09, 0.13, 0.16, 0.07, 0.14, 0.11, 0.17, 0.10, 0.15, 0.12, 0.08, 0.16, 0.13]
zeta13_b = [0.13, 0.08, 0.17, 0.11, 0.15, 0.06, 0.14, 0.19, 0.10, 0.16, 0.12, 0.07, 0.18, 0.13, 0.09, 0.15, 0.11, 0.20, 0.08, 0.14,
            0.12, 0.17, 0.09, 0.15, 0.10, 0.18, 0.13, 0.06, 0.16, 0.11, 0.14, 0.19, 0.08, 0.13, 0.17, 0.10, 0.15, 0.12, 0.07, 0.16,
            0.11, 0.18, 0.14, 0.09, 0.16, 0.12, 0.20, 0.10, 0.15, 0.08, 0.13, 0.17, 0.11, 0.14, 0.06, 0.18, 0.12, 0.16, 0.09, 0.15,
            0.13, 0.10, 0.19, 0.12, 0.16, 0.08, 0.14, 0.11, 0.17, 0.13, 0.07, 0.15, 0.10, 0.18, 0.12, 0.16, 0.09, 0.14, 0.19, 0.11,
            0.15, 0.08, 0.13, 0.17, 0.10, 0.14, 0.12, 0.18, 0.09, 0.16, 0.11, 0.13, 0.20, 0.08, 0.15, 0.12, 0.17, 0.10, 0.14, 0.11]

x_ticks = [0, 200, 400, 600, 800, 1000]
y_ticks = [-10, 0, 10, 20]
y_tick_labels = ["-10", "0", "10", "20"]

# R default palette and line types (matplot recycles col=1:6, lty=1:5)
palette = ["#000000", "#DF536B", "#61D04F", "#2297E6", "#28E2E5", "#CD0BBC"]
ltys = ["solid", "4px,4px", "1px,3px", "1px,3px,4px,3px", "7px,3px"]


def merge(xa, ya, xb, yb):
    pts = sorted(list(zip(xa, ya)) + list(zip(xb, yb)))
    return [p[0] for p in pts], [p[1] for p in pts]


series = [
    merge(iter_main_a, zeta1_a, iter_main_b, zeta1_b),
    merge(iter_main_a, zeta2_a, iter_main_b, zeta2_b),
    merge(iter_main_a, zeta3_a, iter_main_b, zeta3_b),
    merge(iter_main_a, zeta4_a, iter_main_b, zeta4_b),
    merge(iter_main_a, zeta5_a, iter_main_b, zeta5_b),
    merge(iter_main_a, zeta6_a, iter_main_b, zeta6_b),
    merge(iter_small_a, zeta7_a, iter_small_b, zeta7_b),
    merge(iter_small_a, zeta8_a, iter_small_b, zeta8_b),
    merge(iter_small_a, zeta9_a, iter_small_b, zeta9_b),
    merge(iter_small_a, zeta10_a, iter_small_b, zeta10_b),
    merge(iter_small_a, zeta11_a, iter_small_b, zeta11_b),
    merge(iter_small_a, zeta12_a, iter_small_b, zeta12_b),
    merge(iter_small_a, zeta13_a, iter_small_b, zeta13_b),
]

fig = go.Figure()
for k, (xs, ys) in enumerate(series):
    dash = ltys[k % 5]
    fig.add_trace(go.Scatter(
        x=xs, y=ys, mode="lines",
        line=dict(color=palette[k % 6], dash=dash,
                  width=1.4 if dash == "solid" else 1.15),
        showlegend=False, hoverinfo="skip"))

FONT = "Liberation Sans, Arimo, Helvetica, Arial, sans-serif"
axis_common = dict(showgrid=False, zeroline=False, showline=True, mirror=True,
                   linecolor="#555555", linewidth=1, ticks="outside", ticklen=10,
                   tickcolor="#555555", tickwidth=1,
                   tickfont=dict(family=FONT, size=17, color="#222222"))

fig.update_layout(
    width=673, height=664,
    margin=dict(l=98, r=2, t=68, b=86),
    paper_bgcolor="white", plot_bgcolor="white",
    title=dict(text="Coeficientes de g(t)", x=0.5, xref="paper", xanchor="center",
               y=1 - 28 / 664, yref="container", yanchor="middle",
               font=dict(family=FONT, size=21, color="#222222", style="italic")),
    xaxis=dict(range=[-41.4, 1035.7], tickvals=x_ticks, ticklabelstandoff=10,
               title=dict(text="Iterações", standoff=22,
                          font=dict(family=FONT, size=17, color="#222222")),
               **axis_common),
    yaxis=dict(range=[-18.68, 20.85], tickvals=y_ticks, ticktext=y_tick_labels,
               tickangle=-90, ticklabelstandoff=10,
               title=dict(text="ζ<sub>i</sub>", standoff=12,
                          font=dict(family=FONT, size=19, color="#222222")),
               **axis_common),
)

fig.write_html("out.html")
